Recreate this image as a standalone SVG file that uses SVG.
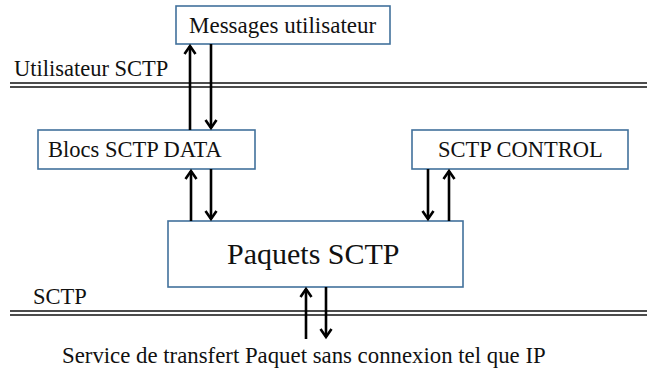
<svg xmlns="http://www.w3.org/2000/svg" width="647" height="374" viewBox="0 0 647 374">
<style>
.box{fill:#fff;stroke:#41719c;stroke-width:1.6}
.rule{stroke:#111;stroke-width:1.6}
.arr{stroke:#000;stroke-width:2.6;fill:none;marker-end:url(#ah)}
text{font-family:'Liberation Serif','Times New Roman',serif;fill:#111;font-size:22.5px}
</style>
<defs>
<marker id="ah" markerUnits="userSpaceOnUse" viewBox="-10 -10 20 20" markerWidth="20" markerHeight="20" refX="0" refY="0" orient="auto" overflow="visible">
<path d="M-8,-5.5 L0,0 L-8,5.5" fill="none" stroke="#000" stroke-width="2.6" stroke-linejoin="miter"/>
</marker>
</defs>
<rect width="647" height="374" fill="#fff"/>
<g id="layer-lines">
<line class="rule" x1="10" y1="83" x2="647" y2="83"/>
<line class="rule" x1="10" y1="87" x2="647" y2="87"/>
<line class="rule" x1="10" y1="311" x2="647" y2="311"/>
<line class="rule" x1="10" y1="315" x2="647" y2="315"/>
<text x="14" y="76">Utilisateur SCTP</text>
<text x="33" y="304">SCTP</text>
<text x="62" y="363" style="font-size:22.8px">Service de transfert Paquet sans connexion tel que IP</text>
</g>
<g id="messages">
<rect class="box" x="176" y="6" width="214" height="38"/>
<text x="189" y="33" style="font-size:23px">Messages utilisateur</text>
</g>
<g id="blocs">
<rect class="box" x="38" y="130" width="217" height="39"/>
<text x="48" y="157">Blocs SCTP DATA</text>
</g>
<g id="control">
<rect class="box" x="412" y="130" width="216" height="39"/>
<text x="438" y="157">SCTP CONTROL</text>
</g>
<g id="paquets">
<rect class="box" x="168" y="221" width="295" height="66"/>
<text x="227" y="264" style="font-size:30px">Paquets SCTP</text>
</g>
<g id="connectors">
<line class="arr" x1="190" y1="130" x2="190" y2="46"/>
<line class="arr" x1="211" y1="44" x2="211" y2="128"/>
<line class="arr" x1="191" y1="221" x2="191" y2="171"/>
<line class="arr" x1="211" y1="169" x2="211" y2="219"/>
<line class="arr" x1="428" y1="169" x2="428" y2="219"/>
<line class="arr" x1="449" y1="221" x2="449" y2="171"/>
<line class="arr" x1="306" y1="339" x2="306" y2="289"/>
<line class="arr" x1="326" y1="287" x2="326" y2="337"/>
</g>
</svg>
